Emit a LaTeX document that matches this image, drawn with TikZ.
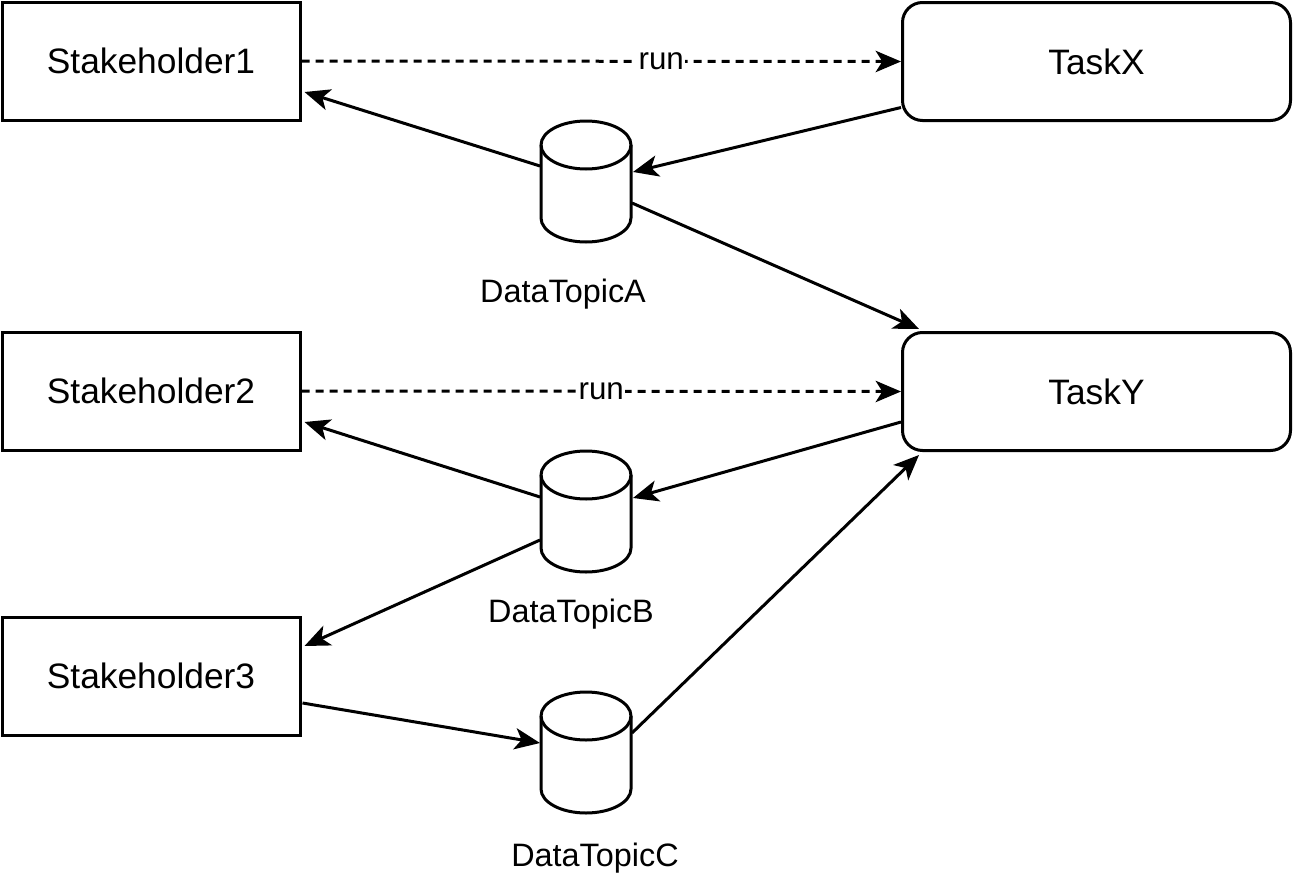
\documentclass[tikz,border=0pt]{standalone}
\usepackage{fontspec}
\setmainfont{Liberation Sans}
\usetikzlibrary{arrows.meta}

\tikzset{
  actor/.style={draw, line width=2.25pt, minimum width=223.5pt, minimum height=88.5pt,
    font=\fontsize{26.5}{30}\selectfont},
  task/.style={actor, rounded corners=15pt, minimum width=291pt},
  topic/.style={minimum width=67.5pt, minimum height=90.75pt, inner sep=0pt},
  topiclabel/.style={font=\fontsize{24.3}{28}\selectfont},
  flow/.style={line width=2.25pt, -{Stealth[length=19pt,width=16pt,inset=5pt]}},
  trigger/.style={flow, dash pattern=on 6pt off 4.5pt},
  runlabel/.style={fill=white, inner sep=1pt, font=\fontsize{23.5}{27}\selectfont},
}

\begin{document}
\begin{tikzpicture}[x=0.75pt, y=-0.75pt]
    \useasboundingbox (0,0) rectangle (1293,882);
    % stakeholders and tasks
    \node[actor] (sh1) at (151,61) {Stakeholder1};
    \node[actor] (sh2) at (151,391) {Stakeholder2};
    \node[actor] (sh3) at (151,676) {Stakeholder3};
    \node[task] (taskX) at (1096.5,61.5) {TaskX};
    \node[task] (taskY) at (1096.5,391.5) {TaskY};
    % data topics
    \node[topic] (topicA) at (586,181) {};
    \node[topic] (topicB) at (586,511) {};
    \node[topic] (topicC) at (586,752) {};
    \foreach \t in {topicA,topicB,topicC} {
      \draw[line width=2.25pt, fill=white] ([shift={(-45,-36)}]\t.center)
        -- ([shift={(-45,37)}]\t.center)
        arc[start angle=180, end angle=360, x radius=33.75pt, y radius=18pt]
        -- ([shift={(45,-36)}]\t.center)
        arc[start angle=0, end angle=180, x radius=33.75pt, y radius=18pt] -- cycle;
      \draw[line width=2.25pt] ([shift={(-45,-36)}]\t.center)
        arc[start angle=180, end angle=360, x radius=33.75pt, y radius=18pt];
    }
    \node[topiclabel] (labelA) at (563,294) {DataTopicA};
    \node[topiclabel] (labelB) at (571,614) {DataTopicB};
    \node[topiclabel] (labelC) at (595,858) {DataTopicC};
    % run triggers
    \draw[trigger] (sh1.east) -- node[runlabel, pos=0.6] (run1) {run} (taskX.west);
    \draw[trigger] (sh2.east) -- node[runlabel, pos=0.5] (run2) {run} (taskY.west);
    % data flows
    \draw[flow] ([shift={(0,46)}]taskX.west) -- ([shift={(47,-9)}]topicA.center);
    \draw[flow] ([shift={(-46,-15)}]topicA.center) -- ([shift={(3,31)}]sh1.east);
    \draw[flow] ([shift={(46,22)}]topicA.center) -- ([shift={(18,-2)}]taskY.north west);
    \draw[flow] ([shift={(0,30.5)}]taskY.west) -- ([shift={(47,-13)}]topicB.center);
    \draw[flow] ([shift={(-46,-14)}]topicB.center) -- ([shift={(3,31)}]sh2.east);
    \draw[flow] ([shift={(-46,29)}]topicB.center) -- ([shift={(3,-30)}]sh3.east);
    \draw[flow] ([shift={(1,27)}]sh3.east) -- ([shift={(-46,-9)}]topicC.center);
    \draw[flow] ([shift={(46,-19)}]topicC.center) -- ([shift={(18,3)}]taskY.south west);
\end{tikzpicture}
\end{document}
